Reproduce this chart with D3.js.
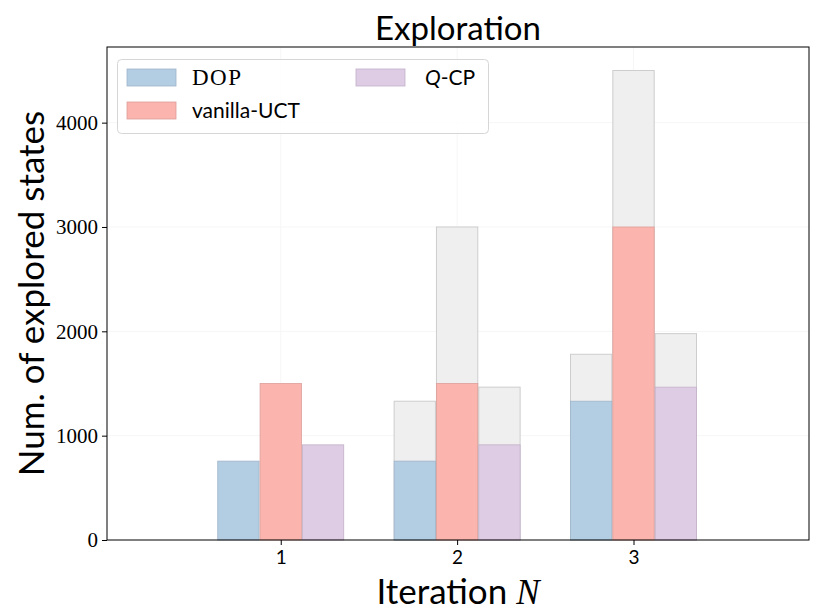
<!DOCTYPE html>
<html>
<head>
<meta charset="utf-8">
<script src="https://cdn.jsdelivr.net/npm/d3@7"></script>
<style>
  html, body { margin: 0; padding: 0; background: #fff; }
  svg { display: block; }
</style>
</head>
<body>
<svg id="chart" width="830" height="612"></svg>
<script>
// values
const iterations = [1, 2, 3];
const seriesNames = ['DOP', 'vanilla-UCT', 'Q-CP'];
const seriesColors = ['#b3cde3', '#fbb4ae', '#decbe4'];
const seriesEdges = ['#9fb5c9', '#dc9e99', '#c2b0c8'];
const dopCurrent = [756, 756, 1330];
const dopTotal = [756, 1330, 1780];
const vanillaCurrent = [1500, 1500, 3000];
const vanillaTotal = [1500, 3000, 4500];
const qcpCurrent = [912, 912, 1465];
const qcpTotal = [912, 1465, 1978];
const yTicks = [0, 1000, 2000, 3000, 4000];

const current = [dopCurrent, vanillaCurrent, qcpCurrent];
const totals = [dopTotal, vanillaTotal, qcpTotal];

const width = 830, height = 612;
const margin = {top: 47, right: 21, bottom: 72, left: 107};

const svg = d3.select('#chart');
const sans = 'Lato, "Open Sans", sans-serif';
const serif = '"Liberation Serif", "DejaVu Serif", serif';

const x = d3.scaleLinear()
    .domain([0.015, 3.995])
    .range([margin.left, width - margin.right]);
const y = d3.scaleLinear()
    .domain([0, 4725])
    .range([height - margin.bottom, margin.top]);

const barStep = 0.24;
const barWidth = 0.24;
const offsets = [-barStep, 0, barStep];

// faint grid
const grid = svg.append('g').attr('stroke', '#f6f6f6').attr('stroke-width', 1);
grid.selectAll('line.h')
    .data(yTicks.slice(1))
    .join('line')
    .attr('x1', margin.left).attr('x2', width - margin.right)
    .attr('y1', (d) => y(d)).attr('y2', (d) => y(d));
grid.selectAll('line.v')
    .data(iterations)
    .join('line')
    .attr('y1', margin.top).attr('y2', height - margin.bottom)
    .attr('x1', (d) => x(d)).attr('x2', (d) => x(d));

// bars: grey cumulative behind, coloured current in front
const bars = [];
seriesNames.forEach((name, s) => {
    iterations.forEach((it, i) => {
        bars.push({s, it, cur: current[s][i], tot: totals[s][i]});
    });
});

const barX = (d) => x(d.it + offsets[d.s] - barWidth / 2);
const barW = x(barWidth) - x(0);

svg.append('g')
    .selectAll('rect')
    .data(bars.filter((d) => d.tot > d.cur))
    .join('rect')
    .attr('x', (d) => barX(d) + 0.5)
    .attr('width', barW - 1)
    .attr('y', (d) => y(d.tot))
    .attr('height', (d) => y(0) - y(d.tot))
    .attr('fill', '#efefef')
    .attr('stroke', '#cdcdcd')
    .attr('stroke-width', 1);

svg.append('g')
    .selectAll('rect')
    .data(bars)
    .join('rect')
    .attr('x', (d) => barX(d) + 0.5)
    .attr('width', barW - 1)
    .attr('y', (d) => y(d.cur))
    .attr('height', (d) => y(0) - y(d.cur))
    .attr('fill', (d) => seriesColors[d.s])
    .attr('stroke', (d) => seriesEdges[d.s])
    .attr('stroke-width', 0.8);

// axes
const xAxis = svg.append('g')
    .attr('transform', `translate(0,${height - margin.bottom})`)
    .call(d3.axisBottom(x).tickValues(iterations).tickSize(5).tickPadding(6).tickFormat(d3.format('d')));
xAxis.select('.domain').remove();
xAxis.selectAll('text').attr('font-family', sans).attr('font-size', 19).attr('fill', '#000');
xAxis.selectAll('line').attr('stroke', '#000');

const yAxis = svg.append('g')
    .attr('transform', `translate(${margin.left},0)`)
    .call(d3.axisLeft(y).tickValues(yTicks).tickSize(5).tickPadding(4).tickFormat(d3.format('d')));
yAxis.select('.domain').remove();
yAxis.selectAll('text').attr('font-family', serif).attr('font-size', 21).attr('fill', '#000');
yAxis.selectAll('line').attr('stroke', '#000');

// frame
svg.append('rect')
    .attr('x', margin.left).attr('y', margin.top)
    .attr('width', width - margin.left - margin.right)
    .attr('height', height - margin.top - margin.bottom)
    .attr('fill', 'none').attr('stroke', '#000').attr('stroke-width', 1);

// title and labels
svg.append('text')
    .attr('x', (margin.left + width - margin.right) / 2)
    .attr('y', 40)
    .attr('text-anchor', 'middle')
    .attr('font-family', sans).attr('font-size', 33)
    .text('Exploration');

const xLabel = svg.append('text')
    .attr('x', (margin.left + width - margin.right) / 2)
    .attr('y', 604)
    .attr('text-anchor', 'middle')
    .attr('font-family', sans).attr('font-size', 35);
xLabel.append('tspan').text('Iteration ');
xLabel.append('tspan').attr('font-family', serif).attr('font-style', 'italic').text('N');

svg.append('text')
    .attr('transform', `translate(44,${(margin.top + height - margin.bottom) / 2}) rotate(-90)`)
    .attr('text-anchor', 'middle')
    .attr('font-family', sans).attr('font-size', 35)
    .text('Num. of explored states');

// legend
const legend = svg.append('g');
legend.append('rect')
    .attr('x', 117.5).attr('y', 59.5)
    .attr('width', 371).attr('height', 74)
    .attr('rx', 4)
    .attr('fill', '#fff').attr('fill-opacity', 0.8)
    .attr('stroke', '#d6d6d6');

const legendItems = [
    {s: 0, px: 127, py: 69},
    {s: 1, px: 127, py: 102},
    {s: 2, px: 356, py: 69}
];
legend.selectAll('rect.patch')
    .data(legendItems)
    .join('rect')
    .attr('class', 'patch')
    .attr('x', (d) => d.px).attr('y', (d) => d.py)
    .attr('width', 49).attr('height', 17)
    .attr('fill', (d) => seriesColors[d.s])
    .attr('stroke', (d) => seriesEdges[d.s])
    .attr('stroke-width', 0.8);

legendItems.forEach((d) => {
    const t = legend.append('text')
        .attr('x', d.px + 65)
        .attr('y', d.py + 16)
        .attr('font-size', 21);
    if (d.s === 0) {
        t.attr('font-family', serif).attr('font-size', 23)
            .attr('letter-spacing', 1.5).text('DOP');
    } else if (d.s === 1) {
        t.attr('font-family', sans).text('vanilla-UCT');
    } else {
        t.attr('x', d.px + 69).attr('font-family', sans);
        t.append('tspan').attr('font-style', 'italic').text('Q');
        t.append('tspan').text('-CP');
    }
});
</script>
</body>
</html>
